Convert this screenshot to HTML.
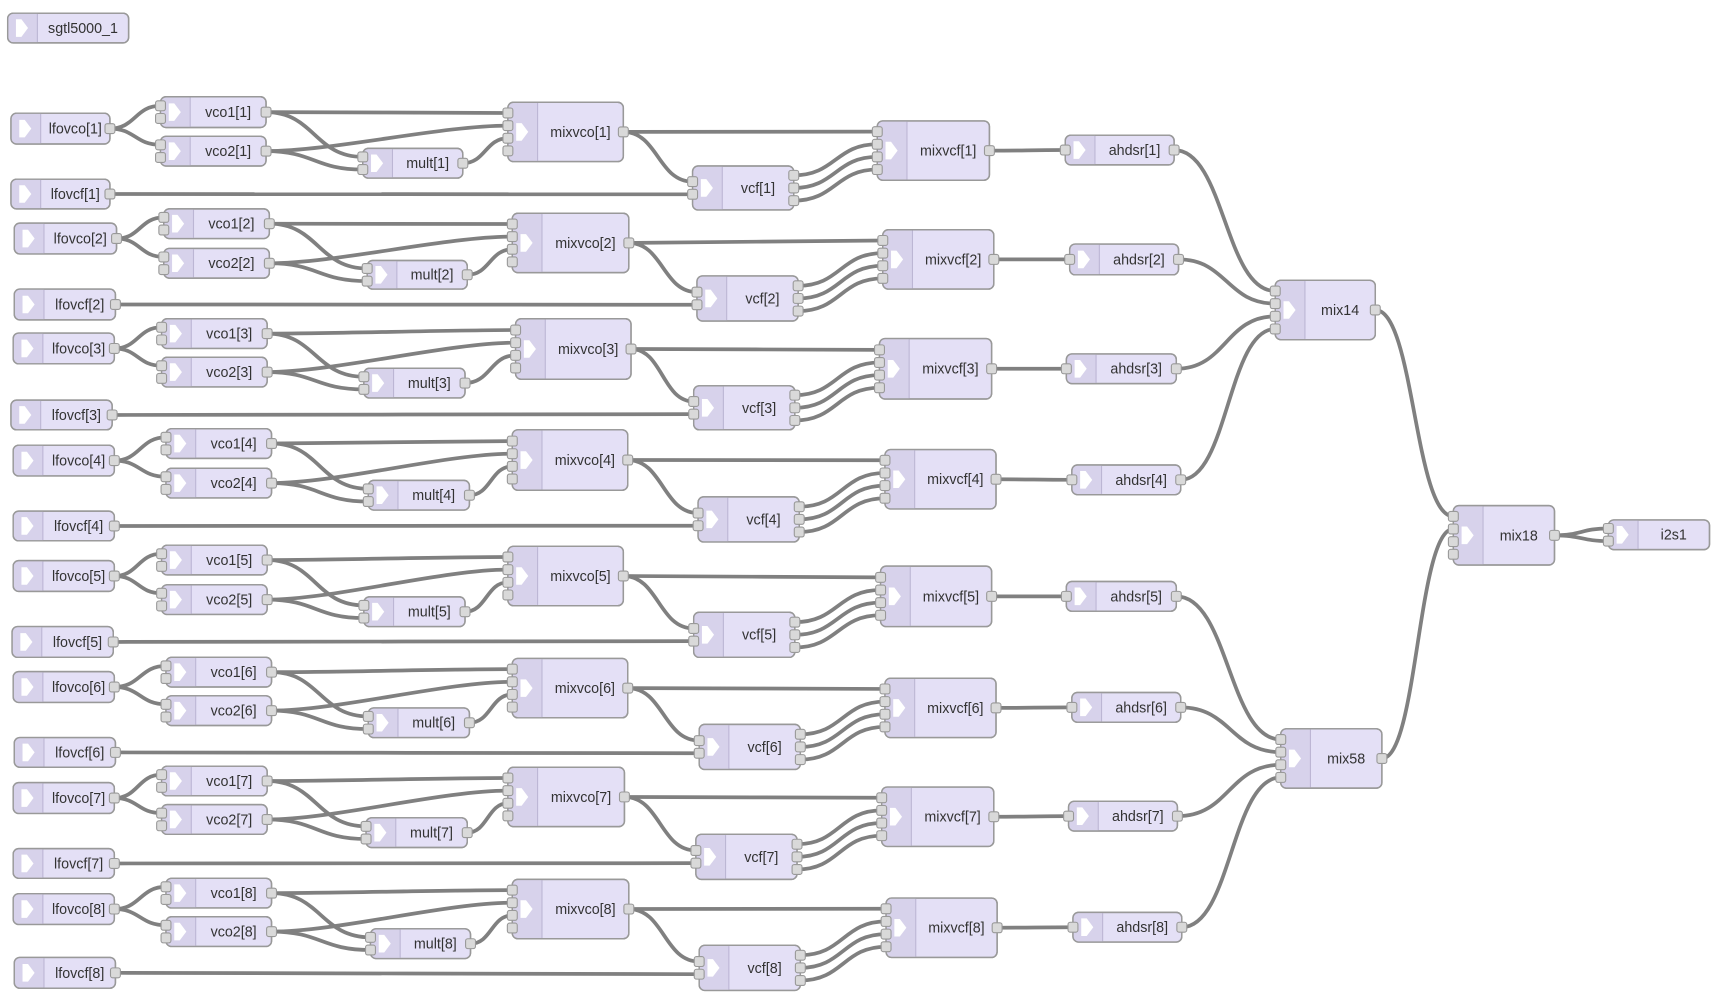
<!DOCTYPE html>
<html><head><meta charset="utf-8">
<style>
html,body{margin:0;padding:0;background:#fff;}
svg{display:block;}
text{font-family:"Liberation Sans",Arial,sans-serif;font-size:13px;fill:#333;text-anchor:middle;}
</style></head>
<body>
<svg id="s" xmlns="http://www.w3.org/2000/svg" width="1715" height="997" viewBox="0 0 1560 907" preserveAspectRatio="none">
<rect width="1560" height="907" fill="#fff"/>
<g id="wires" fill="none" stroke="#808080" stroke-width="3.4"></g>
<g id="nodes"></g>
<g id="labels">
<text>sgtl5000_1</text>
<text>lfovco[1]</text><text>vco1[1]</text><text>vco2[1]</text><text>mult[1]</text><text>mixvco[1]</text><text>lfovcf[1]</text><text>vcf[1]</text><text>mixvcf[1]</text><text>ahdsr[1]</text>
<text>lfovco[2]</text><text>vco1[2]</text><text>vco2[2]</text><text>mult[2]</text><text>mixvco[2]</text><text>lfovcf[2]</text><text>vcf[2]</text><text>mixvcf[2]</text><text>ahdsr[2]</text>
<text>lfovco[3]</text><text>vco1[3]</text><text>vco2[3]</text><text>mult[3]</text><text>mixvco[3]</text><text>lfovcf[3]</text><text>vcf[3]</text><text>mixvcf[3]</text><text>ahdsr[3]</text>
<text>lfovco[4]</text><text>vco1[4]</text><text>vco2[4]</text><text>mult[4]</text><text>mixvco[4]</text><text>lfovcf[4]</text><text>vcf[4]</text><text>mixvcf[4]</text><text>ahdsr[4]</text>
<text>lfovco[5]</text><text>vco1[5]</text><text>vco2[5]</text><text>mult[5]</text><text>mixvco[5]</text><text>lfovcf[5]</text><text>vcf[5]</text><text>mixvcf[5]</text><text>ahdsr[5]</text>
<text>lfovco[6]</text><text>vco1[6]</text><text>vco2[6]</text><text>mult[6]</text><text>mixvco[6]</text><text>lfovcf[6]</text><text>vcf[6]</text><text>mixvcf[6]</text><text>ahdsr[6]</text>
<text>lfovco[7]</text><text>vco1[7]</text><text>vco2[7]</text><text>mult[7]</text><text>mixvco[7]</text><text>lfovcf[7]</text><text>vcf[7]</text><text>mixvcf[7]</text><text>ahdsr[7]</text>
<text>lfovco[8]</text><text>vco1[8]</text><text>vco2[8]</text><text>mult[8]</text><text>mixvco[8]</text><text>lfovcf[8]</text><text>vcf[8]</text><text>mixvcf[8]</text><text>ahdsr[8]</text>
<text>mix14</text><text>mix58</text><text>mix18</text><text>i2s1</text>
</g>
</svg>
<script>
(function(){
var V=[
// lfovco, vco1, vco2, mult, mixvco, lfovcf, vcf, mixvcf, ahdsr  : [x1,y1,x2,y2]
[[10,103,100,131],[146,88,242,116],[146,124,242,151],[330,135,421,162],[462,93,567,147],[10,163,100,190],[630,151,722,191],[798,110,900,164],[969,123,1068,150]],
[[13,203,106,231],[149,190,245,217],[149,226,245,253],[334,237,425,263],[466,194,572,248],[13,263,105,291],[634,251,726,292],[803,209,904,263],[973,222,1072,250]],
[[12,303,104,331],[147,290,243,317],[147,325,243,352],[331,335,423,362],[469,290,574,345],[10,364,102,391],[631,351,723,391],[800,308,902,363],[970,322,1070,349]],
[[12,405,104,433],[151,390,247,417],[151,426,247,453],[335,437,427,464],[466,391,571,446],[12,465,104,492],[635,452,727,493],[805,409,906,463],[975,423,1074,450]],
[[12,510,104,538],[147,496,243,523],[147,532,243,559],[331,543,423,570],[462,497,567,551],[11,570,103,598],[631,557,723,598],[801,515,902,570],[970,529,1070,556]],
[[12,611,104,639],[151,598,247,625],[151,633,247,660],[335,644,427,671],[466,599,571,653],[13,671,105,698],[636,659,728,700],[805,617,906,671],[975,630,1074,657]],
[[12,712,104,740],[147,697,243,724],[147,732,243,759],[333,744,425,771],[462,698,568,752],[12,772,104,799],[633,759,725,800],[802,716,904,770],[972,729,1071,756]],
[[12,813,104,841],[151,799,247,826],[151,834,247,861],[337,845,428,872],[466,800,572,854],[13,871,105,899],[636,860,728,901],[806,817,907,871],[976,830,1075,857]]
];
var names=['lfovco','vco1','vco2','mult','mixvco','lfovcf','vcf','mixvcf','ahdsr'];
var io={lfovco:[0,1],vco1:[2,1],vco2:[2,1],mult:[2,1],mixvco:[4,1],lfovcf:[0,1],vcf:[2,3],mixvcf:[4,1],ahdsr:[1,1]};
var N={};
function add(n,x1,y1,x2,y2,ni,no){N[n]={x:x1,y:y1,w:x2-x1,h:y2-y1,ni:ni,no:no};}
add('sgtl5000_1',7,12,117,39,0,0);
for(var i=0;i<8;i++){for(var j=0;j<9;j++){var r=V[i][j];var t=names[j];add(t+'['+(i+1)+']',r[0],r[1],r[2],r[3],io[t][0],io[t][1]);}}
add('mix14',1160,255,1251,309,4,1);
add('mix58',1165,663,1257,717,4,1);
add('mix18',1322,460,1414,514,4,1);
add('i2s1',1463,473,1555,500,2,0);
var NS='http://www.w3.org/2000/svg';
function el(tag,attrs,parent){var e=document.createElementNS(NS,tag);for(var k in attrs)e.setAttribute(k,attrs[k]);parent.appendChild(e);return e;}
function py(d,n,k){var sp=11.5;if(n==1)return d.y+d.h/2;return d.y+d.h/2-(n-1)*sp/2+k*sp;}
var gw=document.getElementById('wires'),gn=document.getElementById('nodes');
function W(a,o,b,k){var A=N[a],B=N[b];var x1=A.x+A.w,y1=py(A,A.no,o),x2=B.x,y2=py(B,B.ni,k);
var dx=Math.abs(x2-x1);var off=Math.min(Math.max(dx*0.5,12),60);
el('path',{d:'M'+x1+' '+y1+' C'+(x1+off)+' '+y1+' '+(x2-off)+' '+y2+' '+x2+' '+y2},gw);}
for(var i=1;i<=8;i++){var s='['+i+']';
W('lfovco'+s,0,'vco1'+s,0);W('lfovco'+s,0,'vco2'+s,0);
W('vco1'+s,0,'mixvco'+s,0);W('vco2'+s,0,'mixvco'+s,1);
W('vco1'+s,0,'mult'+s,0);W('vco2'+s,0,'mult'+s,1);
W('mult'+s,0,'mixvco'+s,2);
W('mixvco'+s,0,'vcf'+s,0);W('lfovcf'+s,0,'vcf'+s,1);
W('mixvco'+s,0,'mixvcf'+s,0);
W('vcf'+s,0,'mixvcf'+s,1);W('vcf'+s,1,'mixvcf'+s,2);W('vcf'+s,2,'mixvcf'+s,3);
W('mixvcf'+s,0,'ahdsr'+s,0);
W('ahdsr'+s,0,i<=4?'mix14':'mix58',(i-1)%4);}
W('mix14',0,'mix18',0);W('mix58',0,'mix18',1);
W('mix18',0,'i2s1',0);W('mix18',0,'i2s1',1);
for(var n in N){var d=N[n];var g=el('g',{},gn);
el('rect',{x:d.x,y:d.y,width:d.w,height:d.h,rx:5,fill:'#e4e0f6',stroke:'#999',"stroke-width":1.3},g);
el('path',{d:'M'+(d.x+27)+' '+d.y+' H'+(d.x+5)+' Q'+d.x+' '+d.y+' '+d.x+' '+(d.y+5)+' V'+(d.y+d.h-5)+' Q'+d.x+' '+(d.y+d.h)+' '+(d.x+5)+' '+(d.y+d.h)+' H'+(d.x+27)+' Z',fill:'#d7d2eb'},g);
el('line',{x1:d.x+27,y1:d.y+0.7,x2:d.x+27,y2:d.y+d.h-0.7,stroke:'#bcb6d4',"stroke-width":1},g);
el('rect',{x:d.x,y:d.y,width:d.w,height:d.h,rx:5,fill:'none',stroke:'#999',"stroke-width":1.3},g);
var cx=d.x+13.5,cy=d.y+d.h/2;
el('path',{d:'M'+(cx-6)+' '+(cy-8)+' h5 l6 8 l-6 8 h-5 z',fill:'#fff'},g);
for(var k=0;k<d.ni;k++){var y=py(d,d.ni,k);el('rect',{x:d.x-4.5,y:y-4.5,width:9,height:9,rx:2,fill:'#d9d9d9',stroke:'#999',"stroke-width":1},g);}
for(var k=0;k<d.no;k++){var y=py(d,d.no,k);el('rect',{x:d.x+d.w-4.5,y:y-4.5,width:9,height:9,rx:2,fill:'#d9d9d9',stroke:'#999',"stroke-width":1},g);}
}
var ts=document.querySelectorAll('#labels text');
for(var i=0;i<ts.length;i++){var d=N[ts[i].textContent];if(!d)continue;
ts[i].setAttribute('x',d.x+27+(d.w-27)/2);ts[i].setAttribute('y',d.y+d.h/2+4.5);}
})();
</script>
</body></html>
